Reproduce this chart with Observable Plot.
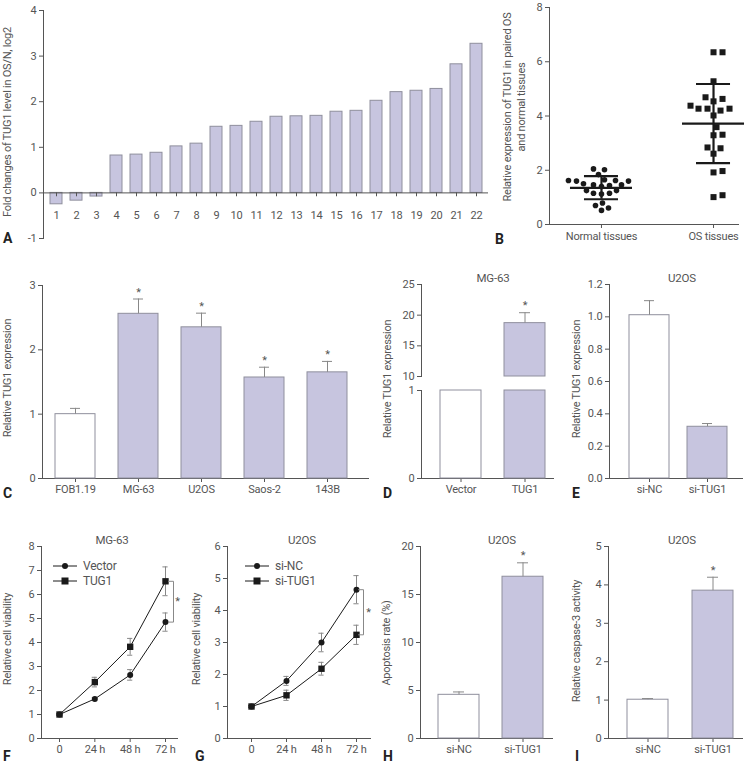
<!DOCTYPE html>
<html><head><meta charset="utf-8">
<script src="https://cdn.jsdelivr.net/npm/d3@7"></script>
<script src="https://cdn.jsdelivr.net/npm/@observablehq/plot@0.6"></script>
<style>
body{margin:0;background:#fff;}
#fig{position:relative;width:756px;height:764px;overflow:hidden;background:#fff;
 font-family:Roboto,"Liberation Sans",Arial,sans-serif;color:#555;}
.ylab{position:absolute;font-size:11px;letter-spacing:-0.25px;white-space:nowrap;text-align:center;line-height:14px;transform:translate(-50%,-50%) rotate(-90deg);}
.title{position:absolute;font-size:11.5px;letter-spacing:-0.2px;white-space:nowrap;transform:translate(-50%,-50%);}
.letter{position:absolute;font-weight:bold;font-size:14px;color:#222;transform:translateY(-50%);}
.leg{position:absolute;font-size:12px;letter-spacing:-0.2px;white-space:nowrap;display:flex;align-items:center;transform:translateY(-50%);}
.leg svg{margin-right:6px;}
</style>
</head><body>
<div id="fig"></div>
<script>
// ---------------- DATA ----------------
// A
const patientIds = ["1","2","3","4","5","6","7","8","9","10","11","12","13","14","15","16","17","18","19","20","21","22"];
const foldChangeLog2 = [-0.25,-0.17,-0.08,0.82,0.84,0.88,1.02,1.08,1.45,1.47,1.56,1.67,1.68,1.69,1.78,1.80,2.02,2.21,2.24,2.28,2.82,3.27];
// B
const bGroups = ["Normal tissues","OS tissues"];
const normalTissue = [2.05,2.02,1.84,1.65,1.62,1.62,1.60,1.60,1.50,1.46,1.46,1.44,1.40,1.25,1.25,1.15,1.15,1.12,0.79,0.70,0.61,0.52];
const osTissue = [6.35,6.35,5.28,4.69,4.63,4.54,4.38,4.27,4.27,4.27,4.20,4.02,3.59,3.31,3.29,2.84,2.81,2.61,1.97,1.92,1.08,1.01];
const bMean = [1.35,3.72];
const bSdLow = [0.93,2.26];
const bSdHigh = [1.78,5.18];
// C
const cellLines = ["FOB1.19","MG-63","U2OS","Saos-2","143B"];
const cellExpr = [1.00,2.56,2.35,1.57,1.65];
const cellErrTop = [1.09,2.79,2.57,1.73,1.82];
const cellSig = [false,true,true,true,true];
// D
const dGroups = ["Vector","TUG1"];
const dExpr = [1.0,18.7];
const dErrTop = [null,20.4];
const dSig = [false,true];
// E
const eGroups = ["si-NC","si-TUG1"];
const eExpr = [1.01,0.32];
const eErrTop = [1.10,0.34];
// F
const timeLabels = ["0","24 h","48 h","72 h"];
const hours = [0,24,48,72];
const fVector = [1.00,1.65,2.65,4.85];
const fVectorSd = [0.03,0.05,0.22,0.38];
const fTUG1 = [1.00,2.35,3.82,6.55];
const fTUG1Sd = [0.03,0.20,0.35,0.60];
// G
const gSiNC = [1.00,1.80,3.00,4.65];
const gSiNCSd = [0.03,0.14,0.29,0.44];
const gSiTUG1 = [1.00,1.35,2.18,3.24];
const gSiTUG1Sd = [0.03,0.16,0.20,0.30];
// H
const hGroups = ["si-NC","si-TUG1"];
const hApoptosis = [4.55,16.85];
const hErrTop = [4.85,18.3];
// I
const iCaspase = [1.01,3.85];
const iErrTop = [1.04,4.20];

// ---------------- STYLE ----------------
const FONT = 'Roboto,"Liberation Sans",Arial,sans-serif';
const LAV = "#c7c5df", EDGE = "#8f8f9d", TXT = "#555", INK = "#1a1a1a", ERR = "#888";
const baseStyle = {fontFamily: FONT, fontSize: "11px", letterSpacing: "-0.2px", color: TXT, background: "transparent", overflow: "visible"};
const fig = document.getElementById("fig");
function place(svg, left, top){ svg.style.position="absolute"; svg.style.left=left+"px"; svg.style.top=top+"px"; fig.appendChild(svg); }
function html(cls, text, left, top, extra){ const d=document.createElement("div"); d.className=cls; d.innerHTML=text; d.style.left=left+"px"; d.style.top=top+"px"; if(extra) Object.assign(d.style, extra); fig.appendChild(d); return d; }
const axisY = (domain, ticks, fmt) => ({domain, ticks, line:true, tickSize:4, tickPadding:3, label:null, tickFormat: fmt || (d=>String(d))});

// ---------------- A ----------------
const aRows = patientIds.map((id,i)=>({id, v: foldChangeLog2[i]}));
place(Plot.plot({
  width:492, height:250, marginLeft:43, marginTop:10, marginRight:4, marginBottom:12, style: baseStyle,
  x:{type:"band", domain: patientIds, paddingInner:0.4, paddingOuter:0.25, axis:null},
  y: axisY([-1,4],[-1,0,1,2,3,4]),
  marks:[
    Plot.barY(aRows, {x:"id", y:"v", fill: LAV, stroke: EDGE}),
    Plot.ruleY([0], {stroke: TXT}),
    Plot.ruleX(aRows, {x:"id", y1:0, y2:-0.085, stroke: TXT}),
    Plot.text(aRows, {x:"id", y:0, text:"id", dy:23, fill: TXT, fontSize:11})
  ]
}), 0, 0);

// ---------------- B ----------------
const bPxY = 217/8, bPxX = 112;
function swarm(values, pxPerY, minDist){
  const order = d3.range(values.length).sort((a,b)=>values[a]-values[b]);
  const placed = [], out = new Array(values.length);
  for (const i of order){
    const py = values[i]*pxPerY; let best = null;
    for (let k=0; k<300 && best===null; k++){
      for (const c of (k===0?[0]:[k,-k])){
        if (placed.every(p=>Math.hypot(p.x-c,p.y-py)>=minDist)){ best=c; break; }
      }
    }
    out[i]=best; placed.push({x:best,y:py});
  }
  return out;
}
const nOff = swarm(normalTissue, bPxY, 7.2), oOff = swarm(osTissue, bPxY, 8.5);
const normalRows = normalTissue.map((v,i)=>({x: 0 + nOff[i]/bPxX, y: v}));
const osRows = osTissue.map((v,i)=>({x: 1 + oOff[i]/bPxX, y: v}));
const bStats = bGroups.map((g,i)=>({g:i, mean:bMean[i], lo:bSdLow[i], hi:bSdHigh[i]}));
place(Plot.plot({
  width:256, height:250, marginLeft:49, marginTop:7, marginRight:18, marginBottom:26, style: baseStyle,
  x:{domain:[-0.464,1.223], ticks:[0,1], tickFormat: i=>bGroups[i], line:true, tickSize:4, tickPadding:4, label:null},
  y: axisY([0,8],[0,2,4,6,8]),
  marks:[
    Plot.ruleX(bStats, {x:"g", y1:"lo", y2:"hi", stroke:INK, strokeWidth:2.2}),
    Plot.ruleY(bStats, {y:"mean", x1:d=>d.g-31/bPxX, x2:d=>d.g+31/bPxX, stroke:INK, strokeWidth:2.2}),
    Plot.ruleY(bStats, {y:"lo", x1:d=>d.g-17/bPxX, x2:d=>d.g+17/bPxX, stroke:INK, strokeWidth:2.2}),
    Plot.ruleY(bStats, {y:"hi", x1:d=>d.g-17/bPxX, x2:d=>d.g+17/bPxX, stroke:INK, strokeWidth:2.2}),
    Plot.dot(normalRows, {x:"x", y:"y", r:2.8, fill:INK, symbol:"circle"}),
    Plot.dot(osRows, {x:"x", y:"y", r:3.4, fill:INK, symbol:"square"})
  ]
}), 500, 0);

// ---------------- bar helper ----------------
function barMarks(rows, base){
  const b = base || 0;
  return [
    Plot.barY(rows.filter(d=>d.ctrl), {x:"cat", y1:b, y2:"top", fill:"white", stroke:EDGE}),
    Plot.barY(rows.filter(d=>!d.ctrl), {x:"cat", y1:b, y2:"top", fill:LAV, stroke:EDGE}),
  ];
}
function errMarks(rows, capInset){
  const e = rows.filter(d=>d.err!=null);
  return [
    Plot.ruleX(e, {x:"cat", y1:"v", y2:"err", stroke:ERR}),
    Plot.tickY(e, {x:"cat", y:"err", stroke:ERR, insetLeft:capInset, insetRight:capInset}),
    Plot.text(e.filter(d=>d.sig), {x:"cat", y:"err", text:()=>"*", dy:-7, fill:TXT, fontSize:11})
  ];
}

// ---------------- C ----------------
const cRows = cellLines.map((c,i)=>({cat:c, v:cellExpr[i], top:cellExpr[i], err:cellErrTop[i], sig:cellSig[i], ctrl:i===0}));
place(Plot.plot({
  width:380, height:260, marginLeft:42, marginTop:35, marginRight:12, marginBottom:32, style: baseStyle,
  x:{type:"band", domain:cellLines, paddingInner:0.36, paddingOuter:0.23, align:0.4, line:true, tickSize:4, tickPadding:3, label:null},
  y: axisY([0,3],[0,1,2,3]),
  marks:[...barMarks(cRows), ...errMarks(cRows, 15)]
}), 0, 250);

// ---------------- D (broken axis) ----------------
const dRows = dGroups.map((c,i)=>({cat:c, v:dExpr[i], err:dErrTop[i], sig:dSig[i], ctrl:i===0}));
const dXopts = {type:"band", domain:dGroups, paddingInner:0.36, paddingOuter:0.21, align:0.685, label:null};
place(Plot.plot({
  width:180, height:130, marginLeft:41, marginTop:34, marginRight:7, marginBottom:4, style: baseStyle,
  x:{...dXopts, axis:null},
  y: axisY([10,25],[10,15,20,25]),
  marks:[...barMarks(dRows.filter(d=>d.v>10).map(d=>({...d, top:d.v})), 10), ...errMarks(dRows, 15)]
}), 380, 250);
place(Plot.plot({
  width:180, height:130, marginLeft:41, marginTop:10, marginRight:7, marginBottom:32, style: baseStyle,
  x:{...dXopts, line:true, tickSize:4, tickPadding:3},
  y: axisY([0,1],[0,1]),
  marks:[...barMarks(dRows.map(d=>({...d, top:Math.min(d.v,1)})))]
}), 380, 380);

// ---------------- E ----------------
const eRows = eGroups.map((c,i)=>({cat:c, v:eExpr[i], top:eExpr[i], err:eErrTop[i], sig:false, ctrl:i===0}));
place(Plot.plot({
  width:186, height:260, marginLeft:39, marginTop:34, marginRight:14, marginBottom:32, style: baseStyle,
  x:{type:"band", domain:eGroups, paddingInner:0.305, paddingOuter:0.28, align:0.59, line:true, tickSize:4, tickPadding:3, label:null},
  y: axisY([0,1.2],[0,0.2,0.4,0.6,0.8,1.0,1.2], d=>d.toFixed(1)),
  marks:[...barMarks(eRows), ...errMarks(eRows, 15)]
}), 570, 250);

// ---------------- line helper ----------------
function linePanel({left, width, marginLeft, marginRight, xDomain, pxPerH, yDomain, yTicks, s1, s1sd, s2, s2sd, brA, brB, starDx}){
  const r1 = hours.map((h,i)=>({h, v:s1[i], sd:s1sd[i]}));
  const r2 = hours.map((h,i)=>({h, v:s2[i], sd:s2sd[i]}));
  const all = r1.concat(r2);
  const cap = 2.6/pxPerH;
  const last = hours.length-1;
  const hi = Math.max(s1[last], s2[last]), lo = Math.min(s1[last], s2[last]);
  const br = [{h:hours[last]+brA/pxPerH, v:hi},{h:hours[last]+brB/pxPerH, v:hi},{h:hours[last]+brB/pxPerH, v:lo},{h:hours[last]+brA/pxPerH, v:lo}];
  place(Plot.plot({
    width, height:259, marginLeft, marginTop:41, marginRight, marginBottom:26, style: baseStyle,
    x:{domain:xDomain, ticks:hours, tickFormat:d=>timeLabels[hours.indexOf(d)], line:true, tickSize:4, tickPadding:3, label:null},
    y: axisY(yDomain, yTicks),
    marks:[
      Plot.ruleX(all, {x:"h", y1:d=>d.v-d.sd, y2:d=>d.v+d.sd, stroke:ERR}),
      Plot.ruleY(all, {y:d=>d.v+d.sd, x1:d=>d.h-cap, x2:d=>d.h+cap, stroke:ERR}),
      Plot.ruleY(all, {y:d=>d.v-d.sd, x1:d=>d.h-cap, x2:d=>d.h+cap, stroke:ERR}),
      Plot.line(r1, {x:"h", y:"v", stroke:INK, strokeWidth:1}),
      Plot.line(r2, {x:"h", y:"v", stroke:INK, strokeWidth:1}),
      Plot.dot(r1, {x:"h", y:"v", r:3, fill:INK, symbol:"circle"}),
      Plot.dot(r2, {x:"h", y:"v", r:3.6, fill:INK, symbol:"square"}),
      Plot.line(br, {x:"h", y:"v", stroke:ERR, strokeWidth:1}),
      Plot.text([br[1]], {x:"h", y:d=>(hi+lo)/2, text:()=>"*", dx:starDx, fill:TXT, fontSize:11})
    ]
  }), left, 505);
}
// F
linePanel({left:0, width:190, marginLeft:41, marginRight:13, xDomain:[-12.23,80.15], pxPerH:1.472,
  yDomain:[0,8], yTicks:[0,1,2,3,4,5,6,7,8], s1:fVector, s1sd:fVectorSd, s2:fTUG1, s2sd:fTUG1Sd, brA:3, brB:8, starDx:4});
// G
linePanel({left:190, width:190, marginLeft:37, marginRight:10, xDomain:[-16.46,81.6], pxPerH:1.458,
  yDomain:[0,6], yTicks:[0,1,2,3,4,5,6], s1:gSiNC, s1sd:gSiNCSd, s2:gSiTUG1, s2sd:gSiTUG1Sd, brA:2, brB:7, starDx:5});

// ---------------- H ----------------
const hRows = hGroups.map((c,i)=>({cat:c, v:hApoptosis[i], top:hApoptosis[i], err:hErrTop[i], sig:i===1, ctrl:i===0}));
place(Plot.plot({
  width:180, height:259, marginLeft:40, marginTop:41, marginRight:8, marginBottom:26, style: baseStyle,
  x:{type:"band", domain:hGroups, paddingInner:0.36, paddingOuter:0.21, align:0.684, line:true, tickSize:4, tickPadding:3, label:null},
  y: axisY([0,20],[0,5,10,15,20]),
  marks:[...barMarks(hRows), ...errMarks(hRows, 15)]
}), 380, 505);

// ---------------- I ----------------
const iRows = hGroups.map((c,i)=>({cat:c, v:iCaspase[i], top:iCaspase[i], err:iErrTop[i], sig:i===1, ctrl:i===0}));
place(Plot.plot({
  width:186, height:259, marginLeft:38, marginTop:41, marginRight:14, marginBottom:26, style: baseStyle,
  x:{type:"band", domain:hGroups, paddingInner:0.37, paddingOuter:0.215, align:0.695, line:true, tickSize:4, tickPadding:3, label:null},
  y: axisY([0,5],[0,1,2,3,4,5]),
  marks:[...barMarks(iRows), ...errMarks(iRows, 15)]
}), 570, 505);

// ---------------- texts ----------------
html("ylab","Fold changes of TUG1 level in OS/N, log2", 8, 122);
html("ylab","Relative expression of TUG1 in paired OS<br>and normal tissues", 515, 107);
html("ylab","Relative TUG1 expression", 8, 378);
html("ylab","Relative TUG1 expression", 388, 379);
html("ylab","Relative TUG1 expression", 577, 379);
html("ylab","Relative cell viability", 8, 639);
html("ylab","Relative cell viability", 197, 639);
html("ylab","Apoptosis rate (%)", 387, 643);
html("ylab","Relative caspase-3 activity", 577, 641);

html("title","MG-63", 493, 278);
html("title","U2OS", 682, 278);
html("title","MG-63", 112, 540);
html("title","U2OS", 302, 540);
html("title","U2OS", 502, 540);
html("title","U2OS", 682, 540);

[["A",3,238],["B",495,239],["C",3,493],["D",383,493],["E",572,493],["F",3,756],["G",195,756],["H",383,756],["I",575,756]]
  .forEach(([t,x,y])=>html("letter",t,x,y));

function legendRow(label, symbol, x, y){
  const mk = symbol==="circle" ? '<circle cx="12" cy="5" r="3" fill="#1a1a1a"/>' : '<rect x="8.5" y="1.5" width="7" height="7" fill="#1a1a1a"/>';
  html("leg", `<svg width="24" height="10"><line x1="0" y1="5" x2="24" y2="5" stroke="#1a1a1a" stroke-width="1"/>${mk}</svg>${label}`, x, y);
}
legendRow("Vector","circle",53,566);
legendRow("TUG1","square",53,581);
legendRow("si-NC","circle",245,566);
legendRow("si-TUG1","square",245,581);
</script>
</body></html>
